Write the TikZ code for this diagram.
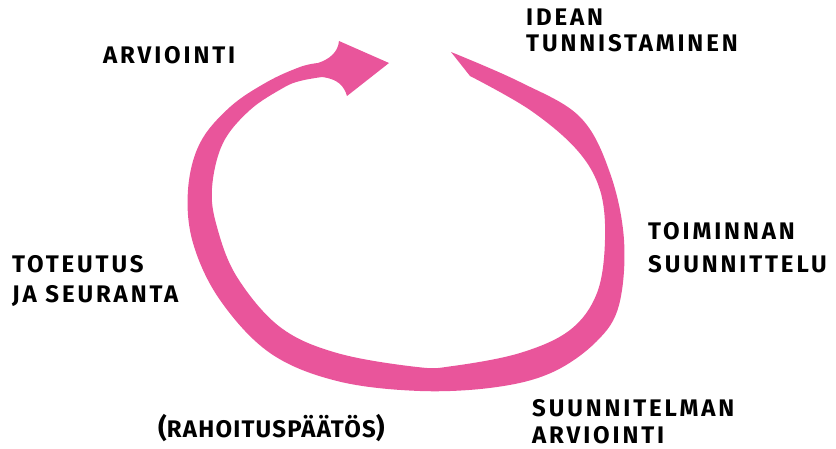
\documentclass[tikz,border=0pt]{standalone}
\usepackage{fontspec}
\newfontfamily\lblfont{Fira Sans}[LetterSpace=12]
\definecolor{cyclepink}{RGB}{233,85,155}
\newcommand{\bigparen}[1]{{\fontsize{27}{30}\selectfont #1}}
\tikzset{
  lbl/.style={anchor=base west, inner sep=0pt, align=left,
    font=\lblfont\bfseries\fontsize{24}{30}\selectfont},
  lbl26/.style={lbl, font=\lblfont\bfseries\fontsize{24}{26}\selectfont},
  lbl27/.style={lbl, font=\lblfont\bfseries\fontsize{24}{27}\selectfont},
  lbl33/.style={lbl, font=\lblfont\bfseries\fontsize{24}{33}\selectfont},
  lbltight/.style={lbl, font=\lblfont\addfontfeatures{LetterSpace=5}\bfseries\fontsize{24}{30}\selectfont},
}
\begin{document}
\begin{tikzpicture}[x=1pt,y=-1pt]
\useasboundingbox (0,0) rectangle (836,449);
% cycle arrow
\fill[cyclepink] (451,52) -- plot[smooth, tension=0.6] coordinates {
  (451,52) (520,82) (580,117) (610,173) (624,240) (619,305) (597,341)
  (553,372) (497,387) (420,391) (337,381) (270,353) (220,300) (193,243)
  (188,190) (200,143) (230,107) (267,82) (300,67) (318,63)}
  .. controls (330,59) and (338,52) .. (339,41)
  -- (389,63) -- (347,96)
  .. controls (344,86) and (338,79) .. (322,77)
  -- plot[smooth, tension=0.6] coordinates {
  (322,77) (300,81) (283,88) (250,110) (223,143) (212,188) (217,227)
  (237,277) (280,327) (337,353) (417,367) (453,366) (520,353) (570,330)
  (597,293) (605,240) (600,190) (577,150) (530,110) (470,76)}
  -- cycle;
% labels (anchor on the baseline of the last line)
\node[lbl26] (idea) at (526,52) {IDEAN\\TUNNISTAMINEN};
\node[lbl] (arv) at (103,64) {ARVIOINTI};
\node[lbl33] (toim) at (648,273) {TOIMINNAN\\SUUNNITTELU};
\node[lbl] (tot) at (12,303) {TOTEUTUS\\JA SEURANTA};
\node[lbl27, text depth=0pt] (suun) at (532,443) {SUUNNITELMAN\\ARVIOINTI};
\node[lbltight] (raha) at (158,437) {\bigparen{(}RAHOITUSPÄÄTÖS\bigparen{)}};
\end{tikzpicture}
\end{document}
